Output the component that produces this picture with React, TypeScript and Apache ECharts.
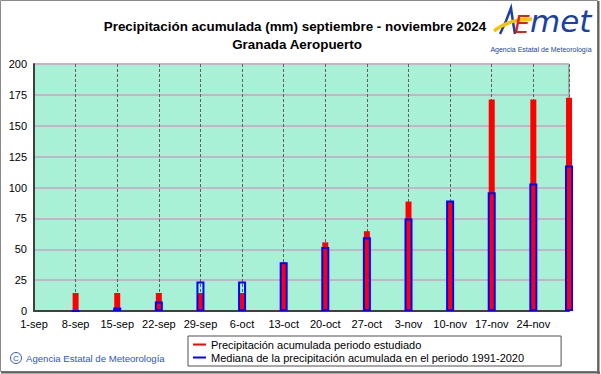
import React, { useEffect, useRef } from 'react';
import * as echarts from 'echarts';

// Tick labels every 7 days starting 1-sep
const tickLabels = ['1-sep', '8-sep', '15-sep', '22-sep', '29-sep', '6-oct', '13-oct', '20-oct', '27-oct', '3-nov', '10-nov', '17-nov', '24-nov'];
// Day offsets from 1-sep for each weekly value (last one = 30-nov)
const dayOffsets = [7, 14, 21, 28, 35, 42, 49, 56, 63, 70, 77, 84, 90];
// Accumulated precipitation in the studied period (mm)
const observed = [14.6, 14.6, 14.6, 14.6, 14.6, 39.2, 55.6, 64.6, 88.6, 88.6, 171.3, 171.3, 172.7];
// Median of accumulated precipitation 1991-2020 (mm)
const median = [0, 2.8, 7.6, 23.8, 23.8, 39.5, 51.9, 59.7, 74.8, 89.4, 96.2, 103.2, 117.8];

const seriesObserved = 'Precipitación acumulada periodo estudiado';
const seriesMedian = 'Mediana de la precipitación acumulada en el periodo 1991-2020';
const titleLine1 = 'Precipitación acumulada (mm) septiembre - noviembre 2024';
const titleLine2 = 'Granada Aeropuerto';

const FONT = 'Liberation Sans, Arial, sans-serif';

export default function App() {
  const ref = useRef<HTMLDivElement>(null);
  useEffect(() => {
    document.body.style.margin = '0';
    const chart = echarts.init(ref.current!, null, { renderer: 'svg' });
    const option: any = {
      animation: false,
      backgroundColor: '#ffffff',
      title: [
        { text: titleLine1, left: 295, top: 20, textAlign: 'center', padding: 0, textStyle: { fontFamily: FONT, fontSize: 13.4, fontWeight: 'bold', color: '#000' } },
        { text: titleLine2, left: 297, top: 38, textAlign: 'center', padding: 0, textStyle: { fontFamily: FONT, fontSize: 13.4, fontWeight: 'bold', color: '#000' } },
      ],
      grid: {
        left: 34, right: 32, top: 64, bottom: 63,
        show: true, backgroundColor: '#a8f0d6', borderColor: '#707070', borderWidth: 1,
      },
      legend: {
        orient: 'vertical', left: 188, top: 336,
        backgroundColor: '#ffffff', borderColor: '#505050', borderWidth: 1,
        padding: [3, 37, 3, 5], itemGap: 2, itemWidth: 13, itemHeight: 2, icon: 'rect',
        textStyle: { fontFamily: FONT, fontSize: 11, color: '#000' },
        data: [
          { name: seriesObserved, itemStyle: { color: '#ff0000', borderWidth: 0 } },
          { name: seriesMedian, itemStyle: { color: '#0000ff', borderWidth: 0 } },
        ],
      },
      xAxis: [
        {
          type: 'value', min: 0, max: 90, interval: 7,
          axisLine: { show: true, lineStyle: { color: '#404040', width: 2 } },
          axisTick: { show: false },
          axisLabel: {
            color: '#000', fontFamily: FONT, fontSize: 11, margin: 7,
            formatter: (v: number) => (v % 7 === 0 && tickLabels[v / 7] !== undefined ? tickLabels[v / 7] : ''),
          },
          splitLine: { show: true, lineStyle: { color: '#606060', type: [3, 2], width: 1 } },
        },
        { type: 'value', min: 0, max: 90, show: false, splitLine: { show: false } },
      ],
      yAxis: {
        type: 'value', min: 0, max: 200, interval: 25,
        axisLine: { show: true, lineStyle: { color: '#404040', width: 2 } },
        axisTick: { show: false },
        axisLabel: { color: '#000', fontFamily: FONT, fontSize: 11, margin: 7 },
        splitLine: { show: true, lineStyle: { color: '#c4b4c8', width: 2 } },
      },
      series: [
        {
          name: seriesObserved, type: 'bar', xAxisIndex: 0, barWidth: 6, clip: false,
          itemStyle: { color: '#ff0000' },
          data: dayOffsets.map((d, i) => [d, observed[i]]),
        },
        {
          name: seriesMedian, type: 'bar', xAxisIndex: 1, barWidth: 8, clip: false,
          itemStyle: { color: 'rgba(0,0,0,0)', borderColor: '#0000ff', borderWidth: 2 },
          data: dayOffsets.map((d, i) => [d, median[i]]),
        },
      ],
      graphic: [
        // outer frame
        { type: 'rect', shape: { x: 0.5, y: 0.5, width: 597, height: 371 }, style: { fill: 'none', stroke: '#8a8a8a', lineWidth: 1 }, silent: true },
        { type: 'line', shape: { x1: 598.5, y1: 1, x2: 598.5, y2: 374 }, style: { stroke: '#606060', lineWidth: 2 }, silent: true },
        { type: 'line', shape: { x1: 1, y1: 372.5, x2: 600, y2: 372.5 }, style: { stroke: '#606060', lineWidth: 2 }, silent: true },
        // logo A
        { type: 'polyline', shape: { points: [[500, 34], [506, 21], [511, 8], [513, 22], [515, 34]] }, style: { stroke: '#1a3fa8', lineWidth: 2.5, fill: 'none' }, silent: true },
        // logo swoosh
        { type: 'bezierCurve', shape: { x1: 494, y1: 31, cpx1: 504, cpy1: 23, cpx2: 518, cpy2: 19, x2: 532, y2: 19 }, style: { stroke: '#f5c400', lineWidth: 3.5, fill: 'none' }, silent: true },
        { type: 'text', x: 514, y: 12, style: { text: 'E', font: 'italic 25px "DejaVu Sans", sans-serif', fill: '#e02020' }, silent: true },
        { type: 'text', x: 530, y: 5, style: { text: 'met', font: 'italic 31px "DejaVu Sans", sans-serif', fill: '#1a3fa8' }, silent: true },
        { type: 'text', x: 541, y: 46, style: { text: 'Agencia Estatal de Meteorología', font: '7px "Liberation Sans", Arial, sans-serif', fill: '#1a3fa8', align: 'center' }, silent: true },
        // copyright
        { type: 'circle', shape: { cx: 16, cy: 358, r: 5.5 }, style: { fill: 'none', stroke: '#2f55c8', lineWidth: 1 }, silent: true },
        { type: 'text', x: 16, y: 358, style: { text: 'C', font: '8px "Liberation Sans", Arial, sans-serif', fill: '#2f55c8', align: 'center', verticalAlign: 'middle' }, silent: true },
        { type: 'text', x: 26, y: 358, style: { text: 'Agencia Estatal de Meteorología', font: '9.6px "Liberation Sans", Arial, sans-serif', fill: '#2f55c8', verticalAlign: 'middle' }, silent: true },
      ],
    };
    chart.setOption(option);
    return () => chart.dispose();
  }, []);
  return <div ref={ref} style={{ position: 'absolute', left: 0, top: 0, width: 601, height: 374 }} />;
}
